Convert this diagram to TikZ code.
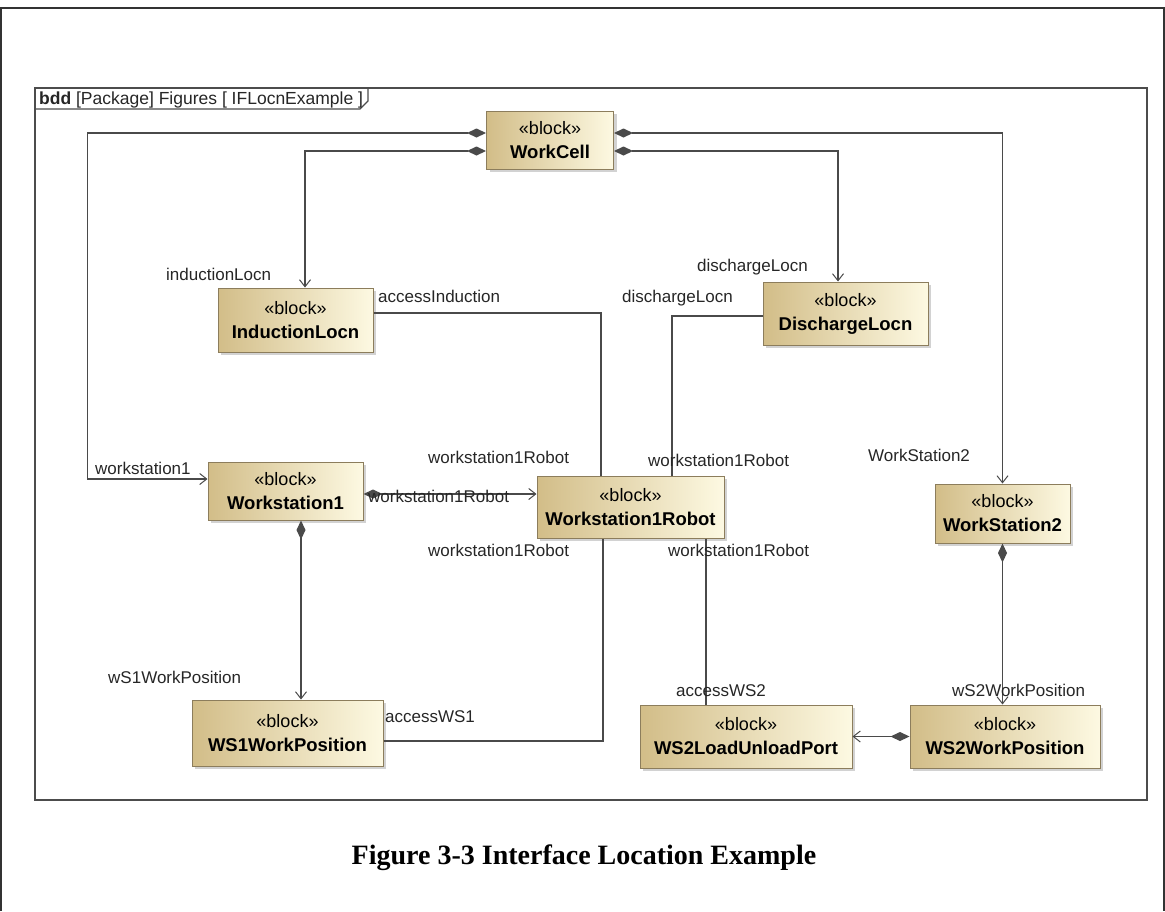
\documentclass[tikz,border=0pt]{standalone}
\usepackage{fontspec}
\setmainfont{Liberation Sans}
\newfontfamily\capfont{Liberation Serif}
\usetikzlibrary{arrows.meta,shadows}

\definecolor{blockedge}{HTML}{8C7D5C}
\definecolor{blockdark}{HTML}{D2BD88}
\definecolor{blocklight}{HTML}{FDF9E2}
\definecolor{linegray}{HTML}{4A4A4A}

\newcommand{\stereo}{{\fontsize{18}{24}\selectfont «block»}}

\begin{document}
\begin{tikzpicture}[x=1pt, y=-1pt, auto]
  \tikzstyle{block} = [rectangle, draw=blockedge, line width=1pt,
    left color=blockdark, right color=blocklight, align=center,
    font=\fontsize{18.5}{24}\selectfont, inner sep=0pt,
    drop shadow={shadow xshift=3pt, shadow yshift=-3pt, fill=black!35, opacity=.5}]
  \tikzstyle{role} = [font=\fontsize{17}{19}\selectfont, text=black!85, inner sep=0pt, anchor=base west]
  \tikzstyle{line} = [draw=linegray, line width=1.2pt]
  \tikzstyle{comp} = [line, {Diamond[length=19pt,width=9pt,fill=linegray]}-{Straight Barb[length=7pt,width=11pt,line width=1pt]}]
  \tikzstyle{assoc} = [line]

  \useasboundingbox (0,0) rectangle (1165,911);

  % Frames
  \draw [black!80, line width=1.3pt] (1,911) -- (1,8) -- (1164,8) -- (1164,911);
  \draw [black!70, line width=1.2pt] (35,88) rectangle (1147,800);
  \draw [black!70, line width=1.2pt] (368,88) -- (368,101) -- (360,109) -- (35,109);
  \node [role, font=\fontsize{17.5}{19}\selectfont] (frametitle) at (39,104) {\textbf{bdd} [Package] Figures [ IFLocnExample ]};

  % Place nodes
  \node [block, minimum width=127pt, minimum height=58pt] (wc) at (550,140) {\stereo\\\textbf{WorkCell}};
  \node [block, minimum width=155pt, minimum height=64pt] (il) at (295.5,320) {\stereo\\\textbf{InductionLocn}};
  \node [block, minimum width=165pt, minimum height=63pt] (dl) at (845.5,313.5) {\stereo\\\textbf{DischargeLocn}};
  \node [block, minimum width=155pt, minimum height=58pt] (ws1) at (285.5,491) {\stereo\\\textbf{Workstation1}};
  \node [block, minimum width=187pt, minimum height=62pt] (wr) at (630.5,507) {\stereo\\\textbf{Workstation1Robot}};
  \node [block, minimum width=135pt, minimum height=59pt] (ws2) at (1002.5,513.5) {\stereo\\\textbf{WorkStation2}};
  \node [block, minimum width=191pt, minimum height=66pt] (w1p) at (287.5,733) {\stereo\\\textbf{WS1WorkPosition}};
  \node [block, minimum width=212pt, minimum height=63pt] (lup) at (746,736.5) {\stereo\\\textbf{WS2LoadUnloadPort}};
  \node [block, minimum width=190pt, minimum height=63pt] (w2p) at (1005,736.5) {\stereo\\\textbf{WS2WorkPosition}};

  % Draw edges
  \coordinate (ws1in) at ([yshift=12pt]ws1.west);
  \path [comp] ([yshift=7pt]wc.west) -| ([xshift=-120pt]ws1in) -- (ws1in);
  \path [comp] ([yshift=-11pt]wc.west) -| ([xshift=9.5pt]il.north);
  \path [comp] ([yshift=-11pt]wc.east) -| ([xshift=-7.5pt]dl.north);
  \path [comp] ([yshift=7pt]wc.east) -| (ws2.north);

  \path [assoc] ([yshift=7pt]il.east) -| ([xshift=-29.5pt]wr.north);
  \path [assoc] ([yshift=-2.5pt]dl.west) -| ([xshift=41.5pt]wr.north);

  \coordinate (ws1out) at ([yshift=-3pt]ws1.east);
  \path [comp] (ws1out) -- (ws1out -| wr.west);
  \coordinate (ws1down) at ([xshift=15.5pt]ws1.south);
  \path [comp] (ws1down) -- (ws1down |- w1p.north);

  \path [assoc] ([yshift=-8pt]w1p.east) -| ([xshift=-27.5pt]wr.south);
  \coordinate (wrdown) at ([xshift=75.5pt]wr.south);
  \path [assoc] (wrdown) -- (wrdown |- lup.north);

  \path [comp] (ws2.south) -- (ws2.south |- w2p.north);
  \path [comp] (w2p.west) -- (w2p.west -| lup.east);

  % Role names
  \node [role] (r1) at (95,474) {workstation1};
  \node [role] (r2) at (166,280) {inductionLocn};
  \node [role] (r3) at (378,302) {accessInduction};
  \node [role] (r4) at (697,271) {dischargeLocn};
  \node [role] (r5) at (622,302) {dischargeLocn};
  \node [role] (r6) at (428,463) {workstation1Robot};
  \node [role] (r7) at (648,466) {workstation1Robot};
  \node [role] (r8) at (368,502) {workstation1Robot};
  \node [role] (r9) at (428,556) {workstation1Robot};
  \node [role] (r10) at (668,556) {workstation1Robot};
  \node [role] (r11) at (868,461) {WorkStation2};
  \node [role] (r12) at (108,683) {wS1WorkPosition};
  \node [role] (r13) at (385,722) {accessWS1};
  \node [role] (r14) at (676,696) {accessWS2};
  \node [role] (r15) at (952,696) {wS2WorkPosition};

  % Caption
  \node [font=\capfont\bfseries\fontsize{28}{32}\selectfont, inner sep=0pt] (caption) at (584,858) {Figure 3-3 Interface Location Example};
\end{tikzpicture}
\end{document}
